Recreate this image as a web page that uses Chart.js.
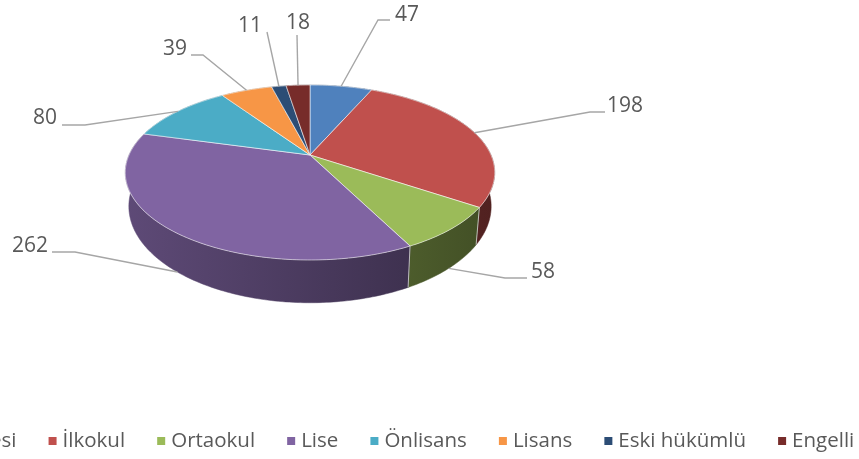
<!DOCTYPE html>
<html lang="tr">
<head>
<meta charset="utf-8">
<style>
html,body{margin:0;padding:0;background:#fff;overflow:hidden}
canvas{display:block;filter:blur(0.5px)}
</style>
<script src="https://cdn.jsdelivr.net/npm/chart.js@4/dist/chart.umd.min.js"></script>
</head>
<body>
<canvas id="c" width="859" height="459"></canvas>
<script>
const categories = ['Okul öncesi','İlkokul','Ortaokul','Lise','Önlisans','Lisans','Eski hükümlü','Engelli'];
const values = [47,198,58,262,80,39,11,18];
const colors = ['#4f81bd','#c0504d','#9bbb59','#8064a2','#4bacc6','#f79646','#2c4d75','#772c2a'];

// Label placement: text centre and leader elbow, per slice
const labelCentres = [[407,15.5],[625,106.5],[543,272.5],[30,246.5],[45,118.5],[175,49.5],[250,26.5],[298,23.5]];
const leaderElbows = [[[378,20],[390,20]],[[590,112],[605,112]],[[505,278],[527,278]],[[75,252],[52,252]],[[85,125],[62,125]],[[203,55],[191,55]],[[267,32]],[[297,35]]];

// Perspective of the pie disc
const TOP  = {cx:310, cy:155, m:181,   k:84,   p:0.2};
const BASE = {cx:310, cy:187, m:177.5, k:92.6, p:0.2};
const LEGEND = {left:-108.5, y:441, box:8, boxGap:6, itemGap:32.1, font:'20.5px "Open Sans"'};
const LABEL_FONT = '21px "Open Sans"';
const TEXT = '#595959', LEADER = '#a6a6a6';

function proj(g, a){
  const x = Math.cos(a), y = Math.sin(a), d = 1 - g.p*y;
  return [g.cx + g.m*x/d, g.cy + g.k*y/d];
}
function rim(ctx, g, a0, a1, first){
  const n = Math.max(2, Math.ceil(Math.abs(a1-a0)*60));
  for(let i=0;i<=n;i++){
    const p = proj(g, a0+(a1-a0)*i/n);
    (i===0 && first) ? ctx.moveTo(p[0],p[1]) : ctx.lineTo(p[0],p[1]);
  }
}
function shade(hex,f){
  const n=parseInt(hex.slice(1),16);
  return `rgb(${(n>>16)*f|0},${((n>>8)&255)*f|0},${(n&255)*f|0})`;
}

const pie3d = {
  id:'pie3d',
  beforeDatasetsDraw(chart){
    const ctx = chart.ctx, arcs = chart.getDatasetMeta(0).data;
    // walls, furthest first
    const order = arcs.map((_,i)=>i).sort((a,b)=>
      Math.sin((arcs[a].startAngle+arcs[a].endAngle)/2)-Math.sin((arcs[b].startAngle+arcs[b].endAngle)/2));
    order.forEach(i=>{
      const el = arcs[i], col = el.options.backgroundColor;
      const g = ctx.createLinearGradient(125,0,495,0);
      g.addColorStop(0,shade(col,0.74)); g.addColorStop(1,shade(col,0.42));
      ctx.beginPath();
      rim(ctx,TOP,el.startAngle,el.endAngle,true);
      rim(ctx,BASE,el.endAngle,el.startAngle,false);
      ctx.closePath();
      ctx.fillStyle=g; ctx.fill();
      ctx.strokeStyle=g; ctx.lineWidth=0.5; ctx.stroke();
    });
    // wall seams on the visible front
    ctx.strokeStyle='rgba(215,215,215,0.8)'; ctx.lineWidth=1;
    arcs.forEach(el=>{
      const a=el.endAngle;
      if(Math.sin(a)>0.2){
        const t=proj(TOP,a), b=proj(BASE,a);
        ctx.beginPath(); ctx.moveTo(t[0],t[1]); ctx.lineTo(b[0],b[1]); ctx.stroke();
      }
    });
    // top face
    arcs.forEach(el=>{
      ctx.beginPath();
      ctx.moveTo(TOP.cx,TOP.cy);
      rim(ctx,TOP,el.startAngle,el.endAngle,false);
      ctx.closePath();
      ctx.fillStyle=el.options.backgroundColor; ctx.fill();
      ctx.strokeStyle='rgba(255,255,255,0.55)'; ctx.lineWidth=1; ctx.stroke();
    });
    // leaders and value labels
    ctx.font=LABEL_FONT; ctx.textAlign='center'; ctx.textBaseline='middle';
    arcs.forEach((el,i)=>{
      const mid=(el.startAngle+el.endAngle)/2;
      const s=proj(Math.sin(mid)>0.3?BASE:TOP,mid);
      ctx.beginPath(); ctx.moveTo(s[0],s[1]);
      leaderElbows[i].forEach(p=>ctx.lineTo(p[0],p[1]));
      ctx.strokeStyle=LEADER; ctx.lineWidth=1.4; ctx.stroke();
      ctx.fillStyle=TEXT;
      ctx.fillText(String(values[i]),labelCentres[i][0],labelCentres[i][1]);
    });
    // legend, its left end falls outside the frame as in the source
    ctx.font=LEGEND.font; ctx.textAlign='left';
    let x=LEGEND.left;
    categories.forEach((name,i)=>{
      ctx.fillStyle=colors[i];
      ctx.fillRect(x,LEGEND.y-LEGEND.box/2,LEGEND.box,LEGEND.box);
      ctx.fillStyle=TEXT;
      const tx=x+LEGEND.box+LEGEND.boxGap;
      ctx.fillText(name,tx,LEGEND.y);
      x=tx+ctx.measureText(name).width+LEGEND.itemGap;
    });
    return false;
  }
};

new Chart(document.getElementById('c'),{
  type:'pie',
  data:{labels:categories,datasets:[{data:values,backgroundColor:colors}]},
  options:{
    responsive:false,animation:false,
    plugins:{legend:{display:false},tooltip:{enabled:false}}
  },
  plugins:[pie3d]
});
</script>
</body>
</html>
